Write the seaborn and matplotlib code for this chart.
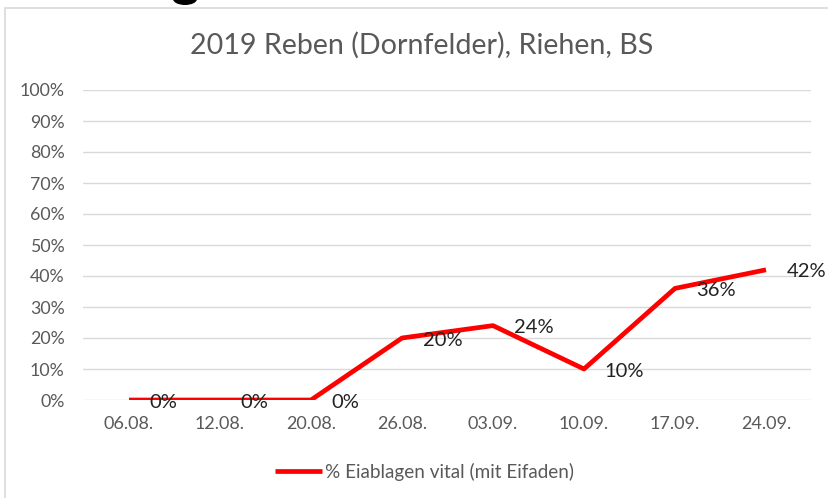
import matplotlib
matplotlib.use('Agg')
import matplotlib.pyplot as plt
import seaborn as sns
import pandas as pd
from matplotlib.patches import Rectangle, Ellipse
from matplotlib.ticker import PercentFormatter

dates = ['06.08.', '12.08.', '20.08.', '26.08.', '03.09.', '10.09.', '17.09.', '24.09.']
vital = [0.00, 0.00, 0.00, 0.20, 0.24, 0.10, 0.36, 0.42]
series_name = '% Eiablagen vital (mit Eifaden)'
title = '2019 Reben (Dornfelder), Riehen, BS'

df = pd.DataFrame({'Datum': dates, 'Anteil': vital})

sns.set_style('white')
plt.rcParams['font.family'] = ['Lato', 'DejaVu Sans']

W, H = 829, 498
fig = plt.figure(figsize=(W / 100, H / 100), dpi=100)

# chart frame (cut off at right and bottom) and the tail of a heading above it
fig.patches.append(Rectangle((5 / W, -0.1), 1, (H - 8) / H + 0.1, transform=fig.transFigure,
                             fill=False, edgecolor='#d9d9d9', linewidth=1.2))
fig.patches.append(Ellipse((185 / W, 1 + 1 / H), 24 / W, 12 / H, transform=fig.transFigure,
                           facecolor='black', edgecolor='none'))

ax = fig.add_axes([83.5 / W, 98 / H, (811.5 - 83.5) / W, (400 - 90) / H])
sns.lineplot(data=df, x='Datum', y='Anteil', ax=ax, color='#ff0000', linewidth=3.4,
             sort=False, label=series_name, solid_capstyle='butt')

ax.set_xlim(-0.5, len(dates) - 0.5)
ax.set_ylim(0, 1)
ax.set_yticks([i / 10 for i in range(11)])
ax.yaxis.set_major_formatter(PercentFormatter(1.0, decimals=0))
ax.grid(axis='y', color='#d9d9d9', linewidth=1)
ax.grid(axis='x', visible=False)
for s in ax.spines.values():
    s.set_visible(False)
ax.tick_params(axis='y', length=0, pad=13.5, labelsize=12.8, labelcolor='#595959')
ax.tick_params(axis='x', length=0, pad=11.5, labelsize=13, labelcolor='#595959')
ax.set_xlabel('')
ax.set_ylabel('')

for i, v in enumerate(vital):
    ax.annotate(f'{v * 100:.0f}%', (i, v), xytext=(15, -1.5), textcoords='offset points',
                ha='left', va='center', fontsize=14.5, color='#222222')

fig.text(422 / W, 1 - 45 / H, title, fontsize=20.6, color='#595959', ha='center', va='center')

ax.legend(loc='center', bbox_to_anchor=(0.468, -0.232), frameon=False,
          fontsize=13.6, handlelength=2.5, handletextpad=0.15, labelcolor='#595959')

fig.savefig('out.png', dpi=100)
